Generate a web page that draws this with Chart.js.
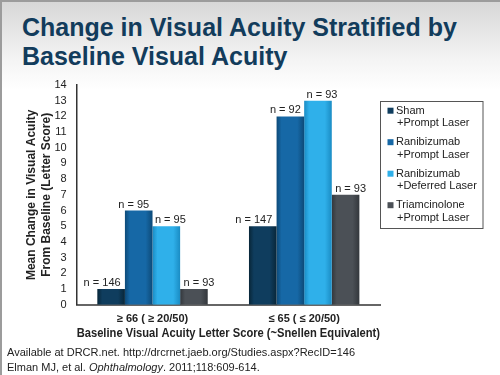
<!DOCTYPE html>
<html>
<head>
<meta charset="utf-8">
<script src="https://cdn.jsdelivr.net/npm/chart.js@4/dist/chart.umd.min.js"></script>
<style>
  html, body { margin: 0; padding: 0; }
  body {
    width: 500px; height: 375px; overflow: hidden; position: relative;
    background: linear-gradient(to bottom, #d6d6d6 0px, #f4f4f4 60px, #ffffff 90px);
    font-family: "Liberation Sans", Arial, sans-serif;
  }
  #frame { position: absolute; left: 0; top: 0; width: 498px; height: 373px; border-left: 2px solid #9c9c9c; border-top: 2px solid #9c9c9c; }
  #title {
    position: absolute; left: 22px; top: 13px; margin: 0;
    font-size: 25px; line-height: 28.5px; font-weight: bold; color: #123c5c;
  }
  #chartBox { position: absolute; left: 0; top: 0; width: 500px; height: 375px; }
  #foot {
    position: absolute; left: 7px; top: 345px;
    font-size: 11px; line-height: 15px; color: #222;
  }
</style>
</head>
<body>
<div id="frame"></div>
<h1 id="title">Change in Visual Acuity Stratified by<br>Baseline Visual Acuity</h1>
<div id="chartBox"><canvas id="myChart" width="500" height="375"></canvas></div>
<div id="foot">Available at DRCR.net. http://drcrnet.jaeb.org/Studies.aspx?RecID=146<br>Elman MJ, et al. <i>Ophthalmology</i>. 2011;118:609-614.</div>

<script>
const categories = ['\u2265 66 ( \u2265 20/50)', '\u2264 65 ( \u2264 20/50)']
const seriesNames = [
    ['Sham', '+Prompt Laser'],
    ['Ranibizumab', '+Prompt Laser'],
    ['Ranibizumab', '+Deferred Laser'],
    ['Triamcinolone', '+Prompt Laser']
]
const shamValues = [1, 5]
const raniPromptValues = [6, 12]
const raniDeferredValues = [5, 13]
const triamValues = [1, 7]
const nSham = [146, 147]
const nRaniPrompt = [95, 92]
const nRaniDeferred = [95, 93]
const nTriam = [93, 93]

const colors = ['#0f3d5e', '#1668a6', '#2fb0ea', '#4b5056']
const edgeColors = ['#082638', '#0d4a78', '#1a8cc4', '#33373c']
const catPct = 0.728

const ctx = document.getElementById('myChart').getContext('2d')

function barFill(c) {
    const i = c.datasetIndex
    if (c.type !== 'data') return colors[i]
    const xs = c.chart.scales.x
    if (!xs || !isFinite(xs.width) || xs.width <= 0) return colors[i]
    const groupW = xs.width / categories.length * catPct
    const barW = groupW / 4
    const left = xs.getPixelForValue(c.dataIndex) - groupW / 2 + i * barW
    const g = c.chart.ctx.createLinearGradient(left, 0, left + barW, 0)
    g.addColorStop(0, edgeColors[i])
    g.addColorStop(0.18, colors[i])
    g.addColorStop(0.75, colors[i])
    g.addColorStop(1, edgeColors[i])
    return g
}

// n = ... labels above the bars
const nLabels = {
    id: 'nLabels',
    afterDatasetsDraw(chart) {
        const counts = [nSham, nRaniPrompt, nRaniDeferred, nTriam]
        const shift = [-9, -5, 4, 5]
        const c = chart.ctx
        c.save()
        c.font = '11px "Liberation Sans", Arial, sans-serif'
        c.fillStyle = '#222'
        c.textAlign = 'center'
        c.textBaseline = 'alphabetic'
        chart.data.datasets.forEach((ds, d) => {
            chart.getDatasetMeta(d).data.forEach((bar, i) => {
                c.fillText('n = ' + counts[d][i], bar.x + shift[d], bar.y - 3)
            })
        })
        c.restore()
    }
}

// boxed legend on the right
const boxLegend = {
    id: 'boxLegend',
    afterDraw(chart) {
        const c = chart.ctx
        c.save()
        c.fillStyle = '#fff'
        c.fillRect(380.5, 101.5, 102.5, 127)
        c.strokeStyle = '#555'
        c.lineWidth = 1
        c.strokeRect(380.5, 101.5, 102.5, 127)
        c.font = '11px "Liberation Sans", Arial, sans-serif'
        c.textBaseline = 'middle'
        c.textAlign = 'left'
        seriesNames.forEach((lines, i) => {
            const y = 110.7 + i * 31.5
            c.fillStyle = colors[i]
            c.fillRect(387.5, y - 3, 6, 6)
            c.fillStyle = '#222'
            c.fillText(lines[0], 396, y)
            c.fillText(lines[1], 397, y + 12.7)
        })
        c.restore()
    }
}

function makeSet(i, values) {
    return {
        label: seriesNames[i].join(' '),
        data: values,
        backgroundColor: barFill,
        borderWidth: 0,
        categoryPercentage: catPct,
        barPercentage: 1.0
    }
}

const config = {
    type: 'bar',
    data: {
        labels: categories,
        datasets: [
            makeSet(0, shamValues),
            makeSet(1, raniPromptValues),
            makeSet(2, raniDeferredValues),
            makeSet(3, triamValues)
        ]
    },
    options: {
        responsive: false,
        animation: false,
        layout: { padding: { top: 85, right: 120, bottom: 34.3, left: 0 } },
        plugins: {
            legend: { display: false },
            tooltip: { enabled: false },
            colors: { enabled: false }
        },
        scales: {
            x: {
                afterFit: (s) => { s.height = 36 },
                grid: { display: false, drawTicks: false },
                border: { display: true, color: '#666', width: 2 },
                ticks: {
                    padding: 7.5,
                    color: '#222',
                    font: { family: '"Liberation Sans", Arial, sans-serif', size: 11, weight: 'bold' }
                },
                title: {
                    display: true,
                    text: 'Baseline Visual Acuity Letter Score (~Snellen Equivalent)',
                    color: '#222',
                    padding: { top: 0, bottom: 0 },
                    font: { family: '"Liberation Sans", Arial, sans-serif', size: 12, weight: 'bold' }
                }
            },
            y: {
                min: 0,
                max: 14,
                afterFit: (s) => { s.width = 76.7 },
                grid: { display: false, drawTicks: false },
                border: { display: true, color: '#333', width: 1.5 },
                ticks: {
                    stepSize: 1,
                    maxTicksLimit: 20,
                    autoSkip: false,
                    padding: 10,
                    color: '#222',
                    font: { family: '"Liberation Sans", Arial, sans-serif', size: 11 }
                },
                title: {
                    display: true,
                    text: ['Mean Change in Visual Acuity', 'From Baseline (Letter Score)'],
                    color: '#222',
                    padding: { top: 24.5, bottom: 0 },
                    font: { family: '"Liberation Sans", Arial, sans-serif', size: 12, weight: 'bold', lineHeight: 1.25 }
                }
            }
        }
    },
    plugins: [nLabels, boxLegend]
}

const myChart = new Chart(ctx, config)
</script>
</body>
</html>
